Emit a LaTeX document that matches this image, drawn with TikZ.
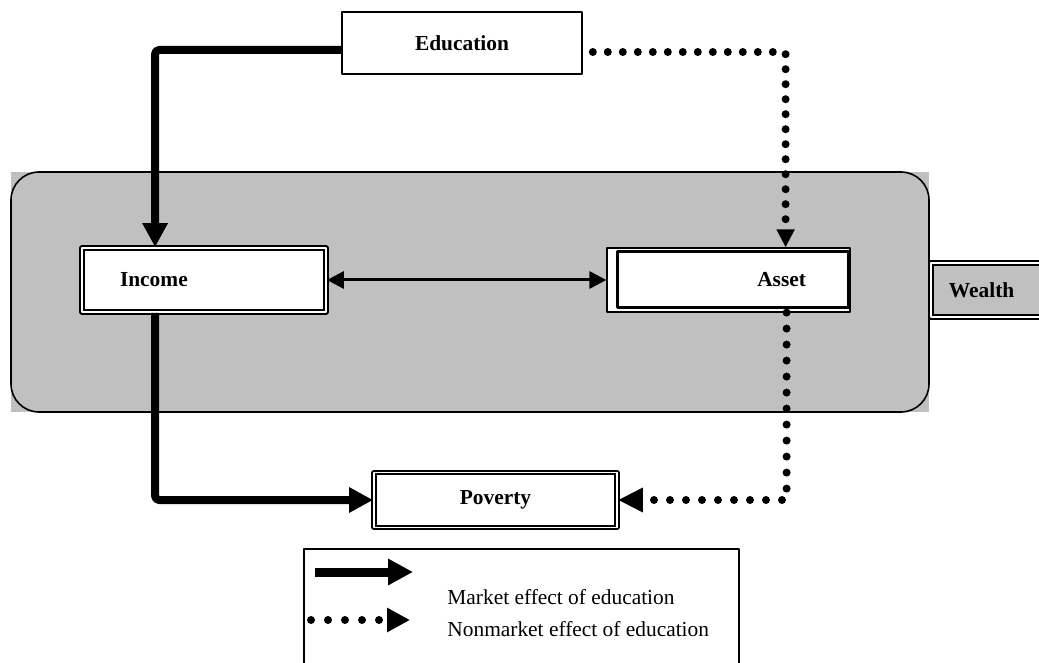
\documentclass[tikz,border=0pt]{standalone}
\usepackage{fontspec}
\setmainfont{Liberation Serif}
\usetikzlibrary{arrows.meta}
\definecolor{wealthgray}{HTML}{C0C0C0}
\tikzset{
  box/.style={draw,line width=0.8pt,fill=white,inner sep=0pt,font=\fontsize{10.7}{13}\selectfont\bfseries},
  dbox/.style={box,double=white,double distance=0.9pt,line width=0.9pt},
  market/.style={line width=4pt,rounded corners=2pt,-{Triangle[length=12pt,width=12pt]}},
  nonmarket/.style={line width=4pt,line cap=round,dash pattern=on 0pt off 8pt,-{Triangle[length=10pt,width=10pt]}},
  legtext/.style={anchor=west,inner sep=0pt,font=\fontsize{10.7}{13}\selectfont}
}
\begin{document}
\begin{tikzpicture}[x=0.5pt,y=-0.5pt,line join=round]
		\useasboundingbox (0,0) rectangle (1039,663);
		\clip (0,0) rectangle (1039,663);
		%Wealth
		\fill[wealthgray] (11,172) rectangle (929,412);
		\draw[line width=0.8pt,rounded corners=14pt] (11,172) rectangle (929,412);
		\node[box,minimum width=120pt,minimum height=31pt] (edu) at (462,43) {Education};
		\node[dbox,minimum height=32pt,text width=84pt,inner xsep=19pt,align=left] (inc) at (204,280) {Income};
		\node[box,line width=0.6pt,minimum height=32pt,text width=77.5pt,inner xsep=22pt,align=right] (ast) at (728.5,280) {Asset};
		\draw[line width=1.2pt] ([shift={(5.5pt,2.5pt)}]ast.south west) rectangle ([shift={(-1pt,-2pt)}]ast.north east);
		\node[dbox,minimum width=121.5pt,minimum height=27.5pt] (pov) at (495.5,500) {Poverty};
		\node[dbox,fill=wealthgray,anchor=west,minimum height=27pt,text width=60pt,inner xsep=9pt,align=left] (wlt) at (930,290) {Wealth};
		%Market effect
		\draw[market] ([yshift=-3.5pt]edu.west) -| ([xshift=37pt]inc.north west);
		\draw[market] ([xshift=37pt]inc.south west) |- (pov.west);
		\draw[line width=1.5pt,{Triangle[length=8.5pt,width=8.5pt]}-{Triangle[length=8.5pt,width=8.5pt]}] (inc.east) -- (ast.west);
		%Nonmarket effect
		\draw[nonmarket,dash pattern=on 0pt off 7.5pt,shorten <=5pt,-{Triangle[length=9pt,width=8.5pt]}] ([yshift=-4.5pt]edu.east) -| ([xshift=-32.5pt]ast.north east);
		\draw[nonmarket,-{Triangle[length=12.5pt,width=11.5pt]}] ([xshift=-32pt]ast.south east) |- (pov.east);
		%Legend
		\draw[line width=0.8pt] (304,700) -- (304,549) -- (739,549) -- (739,700);
		\coordinate (mk1) at (315,572); \coordinate (mk2) at (413,572);
		\coordinate (nm1) at (311,620); \coordinate (nm2) at (410,620);
		\draw[market,line width=4.5pt,-{Triangle[length=12.5pt,width=12.5pt]}] (mk1) -- (mk2);
		\draw[nonmarket,dash pattern=on 0pt off 8.5pt,-{Triangle[length=11.5pt,width=11.5pt]}] (nm1) -- (nm2);
		\node[legtext] (mktxt) at (447,597) {Market effect of education};
		\node[legtext] (nmtxt) at (447,629) {Nonmarket effect of education};
\end{tikzpicture}
\end{document}
